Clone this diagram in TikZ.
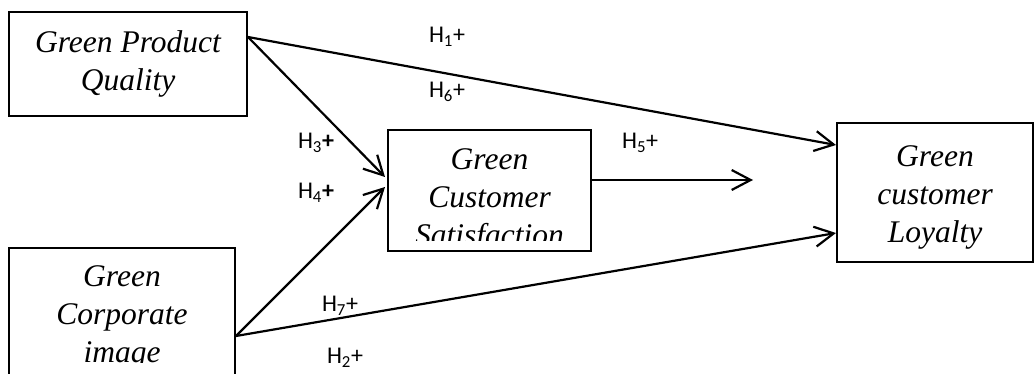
\documentclass[tikz,border=0pt]{standalone}
\usepackage{fontspec}
\setmainfont{Liberation Serif}
\newfontfamily\hypfont{Carlito}
\usetikzlibrary{arrows.meta}

\begin{document}
\begin{tikzpicture}[
    x=1pt, y=-1pt,
    box/.style={rectangle, draw, line width=2pt, inner sep=0pt},
    boxtext/.style={align=center, font=\fontsize{31.5}{38}\selectfont\itshape, inner sep=0pt},
    hyp/.style={font=\hypfont\fontsize{24}{28}\selectfont, inner sep=0pt},
    arrow/.style={-{Straight Barb[length=19pt,width=20pt]}, line width=2.2pt}
  ]
    \clip (0,0) rectangle (1035,374);

    % constructs
    \node[box, minimum width=238pt, minimum height=104pt] (gpq) at (128,64) {};
    \node[box, minimum width=203pt, minimum height=121pt] (gcs) at (489.5,190.5) {};
    \node[box, minimum width=196pt, minimum height=139pt] (gcl) at (935,192.5) {};
    \node[box, minimum width=226pt, minimum height=130pt] (gci) at (122,313) {};

    \node[boxtext] (gpqtext) at (gpq.center) {Green Product\\Quality};
    \begin{scope}
      \clip (388,130) rectangle (591,240);
      \node[boxtext] (gcstext) at ([yshift=-10pt]gcs.center) {Green\\Customer\\Satisfaction};
    \end{scope}
    \begin{scope}
      \clip (837,123) rectangle (1035,250);
      \node[boxtext] (gcltext) at ([yshift=-5pt]gcl.center) {Green\\customer\\Loyalty};
    \end{scope}
    \begin{scope}
      \clip (9,248) rectangle (235,362);
      \node[boxtext] (gcitext) at ([yshift=-4pt]gci.center) {Green\\Corporate\\image};
    \end{scope}

    \coordinate (h5end) at (753,180);

    % paths
    \draw[arrow] ([yshift=27pt]gpq.east) -- ([yshift=47.5pt]gcl.west);
    \draw[arrow] ([yshift=27pt]gpq.east) -- ([xshift=-2pt,yshift=13.5pt]gcs.west);
    \draw[arrow] ([yshift=-23pt]gci.east) -- ([xshift=-2pt,yshift=3.5pt]gcs.west);
    \draw[arrow] ([yshift=-23pt]gci.east) -- ([yshift=-40.5pt]gcl.west);
    \draw[arrow] ([yshift=10.5pt]gcs.east) -- (h5end);

    % hypotheses
    \node[hyp] (h1) at (447,37) {H\textsubscript{1}+};
    \node[hyp] (h6) at (447,92) {H\textsubscript{6}+};
    \node[hyp] (h3) at (316,143) {H\textsubscript{3}\textbf{+}};
    \node[hyp] (h4) at (316,193) {H\textsubscript{4}\textbf{+}};
    \node[hyp] (h5) at (640,143) {H\textsubscript{5}+};
    \node[hyp] (h7) at (340,306) {H\textsubscript{7}+};
    \node[hyp] (h2) at (345,358) {H\textsubscript{2}+};
  \end{tikzpicture}
\end{document}
